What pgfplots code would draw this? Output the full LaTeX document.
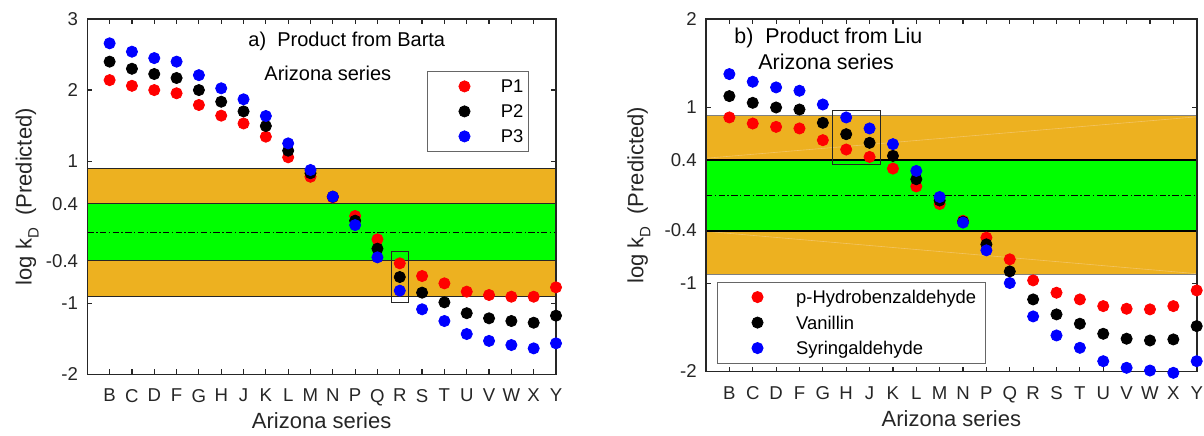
\documentclass[border=0pt]{standalone}
\usepackage{fontspec}
\setmainfont{Liberation Sans}
\usepackage{pgfplots}
\pgfplotsset{compat=1.18}
\definecolor{bandorange}{RGB}{237,177,32}
\definecolor{bandgreen}{RGB}{0,255,0}
\definecolor{axgray}{RGB}{38,38,38}
\definecolor{faint}{RGB}{242,196,100}

\pgfplotstableread{
x  p1     p2     p3
1  2.14   2.40   2.658
2  2.06   2.30   2.54
3  2.00   2.226  2.45
4  1.955  2.17   2.40
5  1.79   2.00   2.21
6  1.64   1.836  2.025
7  1.53   1.70   1.87
8  1.344  1.494  1.635
9  1.054  1.147  1.25
10 0.78   0.83   0.875
11 0.49   0.50   0.50
12 0.228  0.162  0.10
13 -0.10  -0.232 -0.354
14 -0.438 -0.631 -0.823
15 -0.617 -0.851 -1.085
16 -0.72  -0.987 -1.25
17 -0.837 -1.14  -1.433
18 -0.884 -1.212 -1.53
19 -0.908 -1.25  -1.588
20 -0.908 -1.274 -1.635
21 -0.776 -1.175 -1.564
}\barta

\pgfplotstableread{
x  hb     van    syr
1  0.883  1.125  1.375
2  0.814  1.049  1.288
3  0.776  0.996  1.224
4  0.758  0.973  1.186
5  0.625  0.822  1.03
6  0.519  0.693  0.883
7  0.435  0.595  0.758
8  0.303  0.447  0.58
9  0.10   0.182  0.276
10 -0.10  -0.06  -0.02
11 -0.29  -0.30  -0.31
12 -0.481 -0.557 -0.625
13 -0.727 -0.864 -0.996
14 -0.966 -1.182 -1.375
15 -1.106 -1.352 -1.591
16 -1.182 -1.458 -1.731
17 -1.258 -1.572 -1.883
18 -1.288 -1.628 -1.958
19 -1.295 -1.648 -1.989
20 -1.258 -1.636 -2.015
21 -1.08  -1.485 -1.883
}\liu

\pgfplotsset{
  panel/.style={
    scale only axis, xmin=0, xmax=21,
    axis line style={axgray, line width=0.8pt},
    tick style={axgray, line width=0.6pt},
    major tick length=2.5pt,
    tick align=inside, tick pos=both,
    xtick={1,...,21},
    xticklabels={B,C,D,F,G,H,J,K,L,M,N,P,Q,R,S,T,U,V,W,X,Y},
    ticklabel style={font=\fontsize{9.3}{11}\selectfont, text=axgray},
    xticklabel style={yshift=-3.9pt},
    yticklabel style={xshift=-1.1pt},
    extra y ticks={-0.4,0.4},
    extra y tick labels={-0.4,0.4},
    extra y tick style={major tick length=0pt},
    label style={font=\fontsize{11}{13}\selectfont, text=axgray},
    xlabel={Arizona series},
    ylabel={log k\raisebox{-3.5pt}{\fontsize{7.5}{8}\selectfont D}\hspace{0.55em}(Predicted)},
    clip=false,
    set layers,
    legend cell align=left,
  },
  dotL/.style={only marks, mark=*, mark size=2.8pt, color=#1, mark options={fill=#1, draw=#1},
    legend image code/.code={\path (-18.5pt,0pt) (18pt,0pt); \draw[##1, only marks] plot coordinates {(0pt,0pt)};}},
  dotR/.style={only marks, mark=*, mark size=2.8pt, color=#1, mark options={fill=#1, draw=#1},
    legend image code/.code={\path (-20pt,0pt) (19.15pt,0pt); \draw[##1, only marks] plot coordinates {(0pt,0pt)};}},
}

\begin{document}
\begin{tikzpicture}

% ---------------- left panel ----------------
\begin{axis}[panel,
  at={(43.65pt,30.35pt)}, anchor=south west,
  width=234.35pt, height=177.65pt,
  ymin=-2, ymax=3,
  ytick={-2,-1,1,2,3}, yticklabels={-2,-1,1,2,3},
  xlabel style={at={(axis description cs:0.5,-0.152)}, anchor=base},
  ylabel style={at={(axis description cs:-0.1186,0.5)}, anchor=base},
  legend style={at={(0.7241,0.8545)}, anchor=north west, draw=black!60, fill=white,
    inner xsep=0pt, inner ysep=3.65pt, row sep=4.5pt,
    font=\fontsize{9.2}{11}\selectfont,
    nodes={inner sep=0pt, text height=7.29pt, text depth=0.71pt, text width=14pt},
    cells={anchor=west}},
]
\addplot[fill=bandorange, draw=axgray, line width=0.5pt, on layer=axis background, forget plot]
  coordinates {(0,-0.9) (21,-0.9) (21,0.9) (0,0.9)} -- cycle;
\addplot[fill=bandgreen, draw=axgray, line width=0.5pt, on layer=axis background, forget plot]
  coordinates {(0,-0.4) (21,-0.4) (21,0.4) (0,0.4)} -- cycle;
\addplot[black, line width=0.5pt, dash pattern=on 3.2pt off 1.2pt on 0.7pt off 1.2pt, on layer=axis background, forget plot]
  coordinates {(0,0) (21,0)};
\addplot[dotL=red] table[x=x, y=p1] {\barta};
\addlegendentry{P1}
\addplot[dotL=black] table[x=x, y=p2] {\barta};
\addlegendentry{P2}
\addplot[dotL=blue] table[x=x, y=p3] {\barta};
\addlegendentry{P3}
\draw[axgray, line width=0.5pt] (axis cs:13.63,-0.275) rectangle (axis cs:14.37,-0.983);
\node[anchor=base west, inner sep=0pt, font=\fontsize{10}{12}\selectfont] at (axis cs:7.2,2.61) {a)\ \ Product from Barta};
\node[anchor=base west, inner sep=0pt, font=\fontsize{10}{12}\selectfont] at (axis cs:7.92,2.128) {Arizona series};
\end{axis}

% ---------------- right panel ----------------
\begin{axis}[panel,
  at={(353pt,31.75pt)}, anchor=south west,
  width=245.35pt, height=176.25pt,
  ymin=-2, ymax=2,
  ytick={-2,-1,1,2}, yticklabels={-2,-1,1,2},
  xlabel style={at={(axis description cs:0.5,-0.1566)}, anchor=base},
  ylabel style={at={(axis description cs:-0.1278,0.5)}, anchor=base},
  legend style={at={(0.0218,0.2548)}, anchor=north west, draw=black!60, fill=white,
    inner xsep=0pt, inner ysep=3.5pt, row sep=4.75pt,
    font=\fontsize{9.2}{11}\selectfont,
    nodes={inner sep=0pt, text height=7.29pt, text depth=0.71pt, text width=94.65pt},
    cells={anchor=west}},
]
\addplot[fill=bandorange, draw=gray, line width=0.5pt, on layer=axis background, forget plot]
  coordinates {(0,-0.9) (21,-0.9) (21,0.9) (0,0.9)} -- cycle;
\addplot[faint, line width=0.3pt, on layer=axis background, forget plot]
  coordinates {(0,0.42) (21,0.89)};
\addplot[faint, line width=0.3pt, on layer=axis background, forget plot]
  coordinates {(0,-0.41) (21,-0.89)};
\addplot[fill=bandgreen, draw=black, line width=1pt, on layer=axis background, forget plot]
  coordinates {(0,-0.4) (21,-0.4) (21,0.4) (0,0.4)} -- cycle;
\addplot[black, line width=0.5pt, dash pattern=on 3.2pt off 1.2pt on 0.7pt off 1.2pt, on layer=axis background, forget plot]
  coordinates {(0,0) (21,0)};
\addplot[dotR=red] table[x=x, y=hb] {\liu};
\addlegendentry{p-Hydrobenzaldehyde}
\addplot[dotR=black] table[x=x, y=van] {\liu};
\addlegendentry{Vanillin}
\addplot[dotR=blue] table[x=x, y=syr] {\liu};
\addlegendentry{Syringaldehyde}
\draw[axgray, line width=0.5pt] (axis cs:5.40,0.966) rectangle (axis cs:7.46,0.352);
\node[anchor=base west, inner sep=0pt, font=\fontsize{10.7}{12}\selectfont] at (axis cs:1.198,1.72) {b)\ \ Product from Liu};
\node[anchor=base west, inner sep=0pt, font=\fontsize{10.7}{12}\selectfont] at (axis cs:2.225,1.432) {Arizona series};
\end{axis}

\pgfresetboundingbox
\path[use as bounding box] (0,0) rectangle (602pt,217.5pt);
\end{tikzpicture}
\end{document}
